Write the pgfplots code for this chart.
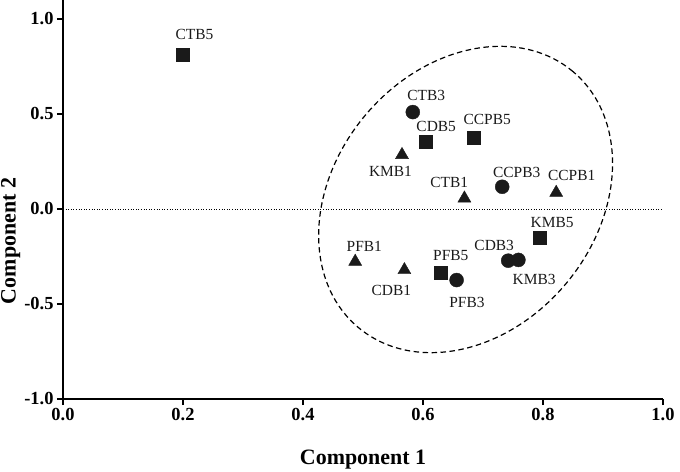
\documentclass[border=0pt]{standalone}
\usepackage{fontspec}
\setmainfont{Liberation Serif}
\usepackage{pgfplots}
\pgfplotsset{compat=1.18}
\usetikzlibrary{calc}
\definecolor{mk}{HTML}{1A1A1A}
\begin{document}
\begin{tikzpicture}
\begin{axis}[name=ax, scale only axis, width=600bp, height=399bp,
  xmin=0, xmax=1, ymin=-1, ymax=1.1,
  axis lines=left,
  axis line style={-, line width=2.6bp},
  every tick/.style={line width=2.6bp, black},
  tick align=outside, major tick length=6bp,
  xtick={0,0.2,0.4,0.6,0.8,1.0},
  ytick={-1,-0.5,0,0.5,1},
  minor tick num=0,
  /pgf/number format/.cd, fixed, fixed zerofill, precision=1, assume math mode=true,
  /pgfplots/.cd,
  tick label style={font=\bfseries\fontsize{18.5}{18.5}\selectfont},
  xlabel={Component 1}, ylabel={Component 2},
  label style={font=\bfseries\fontsize{22}{22}\selectfont},
  xlabel style={at={(axis description cs:0.5,-0.153)}, anchor=center},
  ylabel style={at={(axis description cs:-0.087,0.396)}, anchor=center, rotate=0},
  clip=false,
]
\draw[black, line width=0.9bp, dash pattern=on 1bp off 1.6bp] (axis cs:0,0) -- (axis cs:1,0);
% squares
\addplot[only marks, mark=square*, mark size=6.5bp, color=mk] coordinates {
(0.200,0.810) (0.604,0.354) (0.684,0.377) (0.795,-0.150) (0.629,-0.335)};
% circles
\addplot[only marks, mark=*, mark size=7bp, color=mk] coordinates {
(0.583,0.510) (0.732,0.117) (0.656,-0.374) (0.742,-0.272) (0.759,-0.268)};
% triangles
\addplot[only marks, mark=triangle*, mark size=7.5bp, color=mk] coordinates {
(0.565,0.285) (0.669,0.056) (0.822,0.086) (0.487,-0.277) (0.569,-0.321)};
\coordinate (ec) at (axis cs:0.671,0.05);
\begin{scope}[font=\fontsize{15.5}{15.5}\selectfont, text=mk]
\node at (axis cs:0.219,0.916) {CTB5};
\node at (axis cs:0.6055,0.595) {CTB3};
\node at (axis cs:0.622,0.433) {CDB5};
\node at (axis cs:0.707,0.470) {CCPB5};
\node at (axis cs:0.5458,0.198) {KMB1};
\node at (axis cs:0.6437,0.140) {CTB1};
\node at (axis cs:0.7562,0.192) {CCPB3};
\node at (axis cs:0.8478,0.1786) {CCPB1};
\node at (axis cs:0.8153,-0.0711) {KMB5};
\node at (axis cs:0.5022,-0.1984) {PFB1};
\node at (axis cs:0.5472,-0.4274) {CDB1};
\node at (axis cs:0.6463,-0.246) {PFB5};
\node at (axis cs:0.6733,-0.4921) {PFB3};
\node at (axis cs:0.7187,-0.1921) {CDB3};
\node at (axis cs:0.7853,-0.3695) {KMB3};
\end{scope}
\end{axis}
\begin{scope}[shift={(ec)}, rotate=50]
\draw[black, line width=1.2bp, dash pattern=on 5.5bp off 3.5bp] (0,0) ellipse [x radius=167bp, y radius=131bp];
\end{scope}
\pgfresetboundingbox
\path[use as bounding box] ($(ax.south west)+(-63bp,-73bp)$) rectangle ($(ax.north east)+(17bp,0bp)$);
\end{tikzpicture}
\end{document}
